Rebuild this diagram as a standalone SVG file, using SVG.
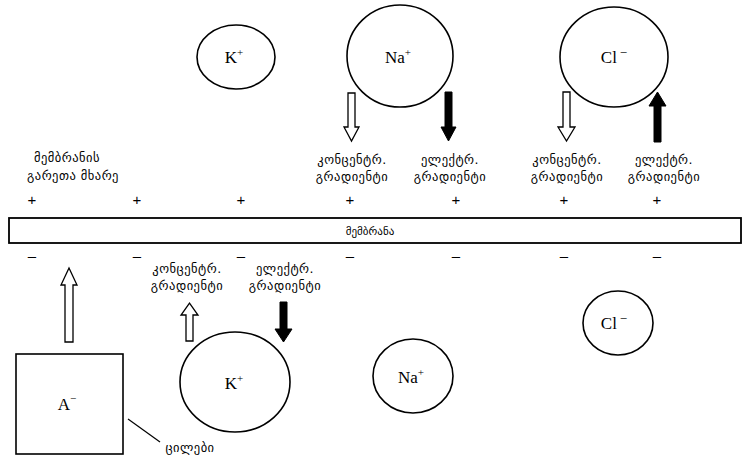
<svg xmlns="http://www.w3.org/2000/svg" width="747" height="459" viewBox="0 0 747 459">
<defs>
<style>
.ion{fill:none;stroke:#000;stroke-width:1.6}
.ionT{font-family:"Liberation Serif",serif;font-size:17px;fill:#000;text-anchor:middle}
.geo{font-family:"DejaVu Sans",sans-serif;font-size:12.5px;letter-spacing:0.5px;fill:#000;text-anchor:middle}
.sign{font-family:"Liberation Sans",sans-serif;font-size:15px;fill:#000;text-anchor:middle}
.wa{fill:#fff;stroke:#000;stroke-width:1.3}
.ba{fill:#000;stroke:#000;stroke-width:1}
</style>
</defs>
<rect width="747" height="459" fill="#fff"/>

<g id="membrane">
<rect x="9" y="218" width="732" height="25" fill="#fff" stroke="#000" stroke-width="1.8"/>
<text class="geo" x="370" y="235" style="font-size:11px;letter-spacing:0">მემბრანა</text>
</g>

<g id="signs">
<text class="sign" x="32" y="205">+</text>
<text class="sign" x="137" y="205">+</text>
<text class="sign" x="241" y="205">+</text>
<text class="sign" x="350" y="205">+</text>
<text class="sign" x="456" y="205">+</text>
<text class="sign" x="564" y="205">+</text>
<text class="sign" x="657" y="205">+</text>
<text class="sign" x="32" y="261">–</text>
<text class="sign" x="137" y="261">–</text>
<text class="sign" x="241" y="261">–</text>
<text class="sign" x="350" y="261">–</text>
<text class="sign" x="456" y="261">–</text>
<text class="sign" x="564" y="261">–</text>
<text class="sign" x="657" y="261">–</text>
</g>

<g id="outer-label">
<text class="geo" x="67" y="162">მემბრანის</text>
<text class="geo" x="73" y="180">გარეთა მხარე</text>
</g>

<g id="k-top">
<ellipse class="ion" cx="236" cy="57" rx="39" ry="32"/>
<text class="ionT" x="234" y="63">K<tspan font-size="11" dy="-7">+</tspan></text>
</g>
<g id="na-top">
<ellipse class="ion" cx="400" cy="56" rx="53" ry="51"/>
<text class="ionT" x="398" y="63">Na<tspan font-size="11" dy="-7">+</tspan></text>
</g>
<g id="cl-top">
<ellipse class="ion" cx="614" cy="57" rx="54" ry="50"/>
<text class="ionT" x="614" y="63">Cl<tspan font-size="13" dx="3" dy="-6">−</tspan></text>
</g>

<g id="na-top-labels">
<text class="geo" x="352" y="164">კონცენტრ.</text>
<text class="geo" x="352" y="181">გრადიენტი</text>
<text class="geo" x="450" y="164">ელექტრ.</text>
<text class="geo" x="450" y="181">გრადიენტი</text>
</g>
<g id="cl-top-labels">
<text class="geo" x="567" y="164">კონცენტრ.</text>
<text class="geo" x="567" y="181">გრადიენტი</text>
<text class="geo" x="664" y="164">ელექტრ.</text>
<text class="geo" x="664" y="181">გრადიენტი</text>
</g>

<g id="k-bottom">
<ellipse class="ion" cx="235" cy="382" rx="55" ry="50"/>
<text class="ionT" x="234" y="389">K<tspan font-size="11" dy="-7">+</tspan></text>
</g>
<g id="na-bottom">
<ellipse class="ion" cx="413" cy="376" rx="40" ry="37"/>
<text class="ionT" x="411" y="383">Na<tspan font-size="11" dy="-7">+</tspan></text>
</g>
<g id="cl-bottom">
<ellipse class="ion" cx="618" cy="323" rx="35" ry="32"/>
<text class="ionT" x="614" y="329">Cl<tspan font-size="13" dx="3" dy="-6">−</tspan></text>
</g>

<g id="a-box">
<rect x="16" y="354" width="107" height="100" fill="none" stroke="#000" stroke-width="1.6"/>
<text class="ionT" x="67" y="410">A<tspan font-size="11" dy="-8">−</tspan></text>
</g>

<g id="k-bottom-labels">
<text class="geo" x="187" y="273">კონცენტრ.</text>
<text class="geo" x="285" y="273">ელექტრ.</text>
<text class="geo" x="187" y="290">გრადიენტი</text>
<text class="geo" x="285" y="290">გრადიენტი</text>
</g>

<g id="protein-label">
<text class="geo" x="190" y="452">ცილები</text>
</g>

<g id="connectors">
<line x1="128" y1="419" x2="160" y2="442" stroke="#000" stroke-width="1.2"/>
<polygon class="wa" points="348,93 355,93 355,127 359,127 351.5,141 344,127 348,127"/>
<polygon class="ba" points="445,92 452,92 452,127 456,127 448.5,141 441,127 445,127"/>
<polygon class="wa" points="563,92 570,92 570,127 575,127 566.5,141 558,127 563,127"/>
<polygon class="ba" points="654,142 661,142 661,106 666,106 657.5,92 649,106 654,106"/>
<polygon class="wa" points="65,342 73,342 73,285 77,285 69,268 61,285 65,285"/>
<polygon class="wa" points="186,341 193,341 193,315 198,315 189.5,303 181,315 186,315"/>
<polygon class="ba" points="280,302 287,302 287,329 292,329 283.5,342 275,329 280,329"/>
</g>
</svg>
